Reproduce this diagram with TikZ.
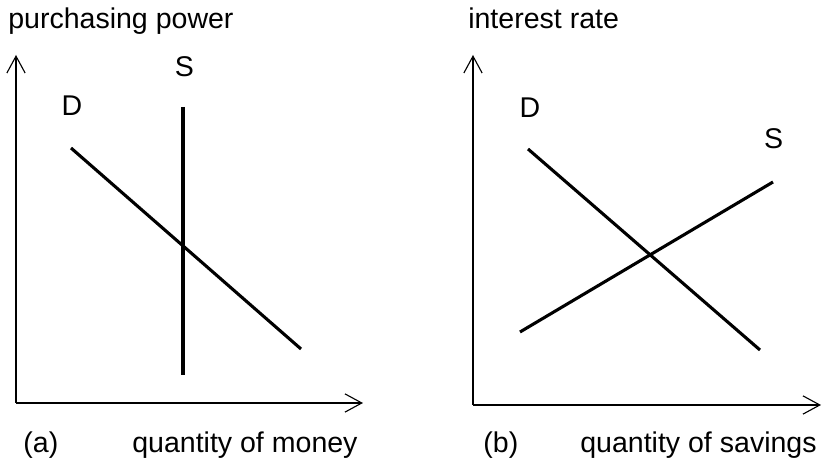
\documentclass[tikz,border=0pt]{standalone}
\usepackage{fontspec}
\setmainfont{Liberation Sans}
\usetikzlibrary{arrows.meta}

\begin{document}
\begin{tikzpicture}[
    font=\fontsize{20.3}{24}\selectfont,
    axis/.style={line width=0.8pt, -{Straight Barb[length=12pt, width=13pt, line width=0.8pt]}},
    curve/.style={line width=2.2pt},
    lbl/.style={inner sep=0pt, anchor=base west},
    tag/.style={inner sep=0pt},
]
\useasboundingbox (0,0) rectangle (20.6,11.7);

% Panel (a): money market
\coordinate (oa) at (0.40,1.625);
\coordinate (ya) at (0.40,10.325);
\coordinate (xa) at (9.075,1.625);
\draw[axis] (oa) -- (ya);
\draw[axis] (oa) -- (xa);

\coordinate (da1) at (1.775,8.0);
\coordinate (da2) at (7.525,2.975);
\coordinate (sa1) at (4.575,9.025);
\coordinate (sa2) at (4.575,2.325);
\draw[curve] (da1) -- (da2);
\draw[curve] (sa1) -- (sa2);

\node[tag] (Da) at (1.8,9.05) {D};
\node[tag] (Sa) at (4.61,10.03) {S};
\node[lbl] (ylaba) at (0.2,10.98) {purchasing power};
\node[lbl] (taga) at (0.58,0.39) {(a)};
\node[lbl] (xlaba) at (3.3,0.39) {quantity of money};

% Panel (b): savings market
\coordinate (ob) at (11.825,1.575);
\coordinate (yb) at (11.825,10.325);
\coordinate (xb) at (20.525,1.575);
\draw[axis] (ob) -- (yb);
\draw[axis] (ob) -- (xb);

\coordinate (db1) at (13.2,7.975);
\coordinate (db2) at (19.0,2.95);
\coordinate (sb1) at (13.0,3.4);
\coordinate (sb2) at (19.325,7.15);
\draw[curve] (db1) -- (db2);
\draw[curve] (sb1) -- (sb2);

\node[tag] (Db) at (13.25,9.0) {D};
\node[tag] (Sb) at (19.34,8.225) {S};
\node[lbl] (ylabb) at (11.7,10.98) {interest rate};
\node[lbl] (tagb) at (12.08,0.39) {(b)};
\node[lbl] (xlabb) at (14.5,0.39) {quantity of savings};

\end{tikzpicture}
\end{document}
